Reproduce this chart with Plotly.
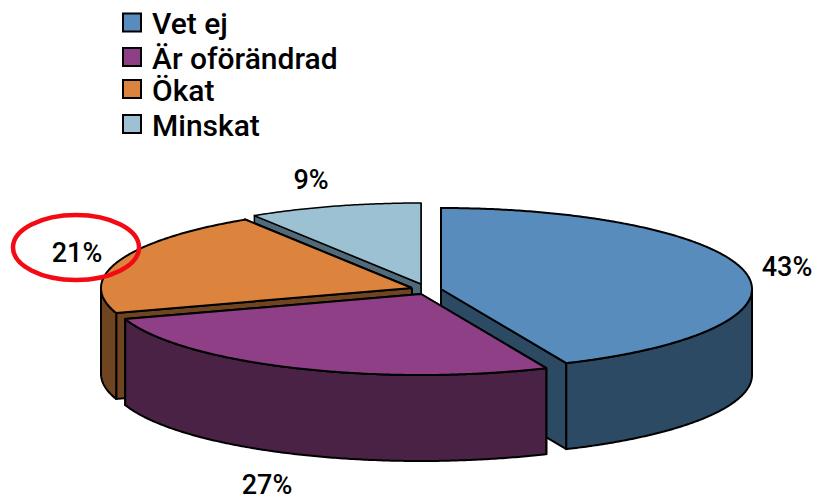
import numpy as np
import plotly.graph_objects as go

categories = ["Vet ej", "Är oförändrad", "Ökat", "Minskat"]
values = [43.4, 26.6, 21.0, 9.0]
top_colors = ["#578CBD", "#8E3F86", "#DC843D", "#9BC1D3"]
side_colors = ["#2C4A64", "#4A2245", "#6E4421", "#4F6A78"]

# layout constants (pixels)
W, H = 816, 497
RX, RY, DEPTH = 311, 81, 86
centers = [(441, 289), (421, 294), (412, 288), (421, 284)]
line_widths = [2, 2, 2, 1.5]
label_pos = [(787, 269), (267, 487), (77, 255), (311, 182)]
legend_x = 132
legend_y = [22.5, 57, 89, 124]
FONT = "Roboto, Liberation Sans, sans-serif"

fig = go.Figure()


def pt(c, a):
    a = np.asarray(a, dtype=float)
    r = np.radians(a)
    return c[0] + RX * np.sin(r), c[1] - RY * np.cos(r)


def poly(xs, ys, fill, lw):
    fig.add_trace(go.Scatter(
        x=list(xs) + [xs[0]], y=list(ys) + [ys[0]], mode="lines", fill="toself",
        fillcolor=fill, line=dict(color="black", width=lw, simplify=False),
        hoverinfo="skip", showlegend=False))


def wedge_angles(a0, a1):
    return np.linspace(a0, a1, max(int(abs(a1 - a0) * 2), 2))


def draw_slice(i, a0, a1):
    c = centers[i]
    lw = line_widths[i]
    # radial walls
    for a in (a1, a0):
        x, y = pt(c, a)
        poly([c[0], float(x), float(x), c[0]],
             [c[1], float(y), float(y) + DEPTH, c[1] + DEPTH], side_colors[i], lw)
    # outer wall (front half only)
    lo, hi = max(a0, 90), min(a1, 270)
    if hi > lo:
        x, y = pt(c, wedge_angles(lo, hi))
        poly(np.r_[x, x[::-1]], np.r_[y, (y + DEPTH)[::-1]], side_colors[i], lw)
    # top
    x, y = pt(c, wedge_angles(a0, a1))
    poly(np.r_[c[0], x], np.r_[c[1], y], top_colors[i], lw)


edges = np.cumsum([0] + values) / sum(values) * 360
for i in (3, 0, 2, 1):  # back to front
    draw_slice(i, edges[i], edges[i + 1])

# percentage labels
fig.add_trace(go.Scatter(
    x=[p[0] for p in label_pos], y=[p[1] for p in label_pos], mode="text",
    text=[f"{round(v)}%" for v in values],
    textfont=dict(family=FONT, size=27, color="black", weight=500),
    hoverinfo="skip", showlegend=False))

# legend
fig.add_trace(go.Scatter(
    x=[legend_x] * 4, y=legend_y, mode="markers",
    marker=dict(symbol="square", size=18, color=top_colors, line=dict(color="black", width=2)),
    hoverinfo="skip", showlegend=False))
for name, y in zip(categories, legend_y):
    fig.add_annotation(x=150, y=y + 1, text=name, showarrow=False, xanchor="left", yanchor="middle",
                       font=dict(family=FONT, size=30, color="black", weight=500))

# red highlight ring
fig.add_shape(type="circle", xref="x", yref="y", x0=13, x1=139, y0=215, y1=280,
              line=dict(color="#F40A14", width=4.5))

fig.update_layout(
    width=W, height=H, margin=dict(l=0, r=0, t=0, b=0),
    paper_bgcolor="white", plot_bgcolor="white",
    xaxis=dict(range=[0, W], visible=False, fixedrange=True),
    yaxis=dict(range=[H, 0], visible=False, fixedrange=True),
)
fig.write_html("out.html", config={"displayModeBar": False},
               post_script="document.body.style.margin='0';document.body.style.overflow='hidden';")
